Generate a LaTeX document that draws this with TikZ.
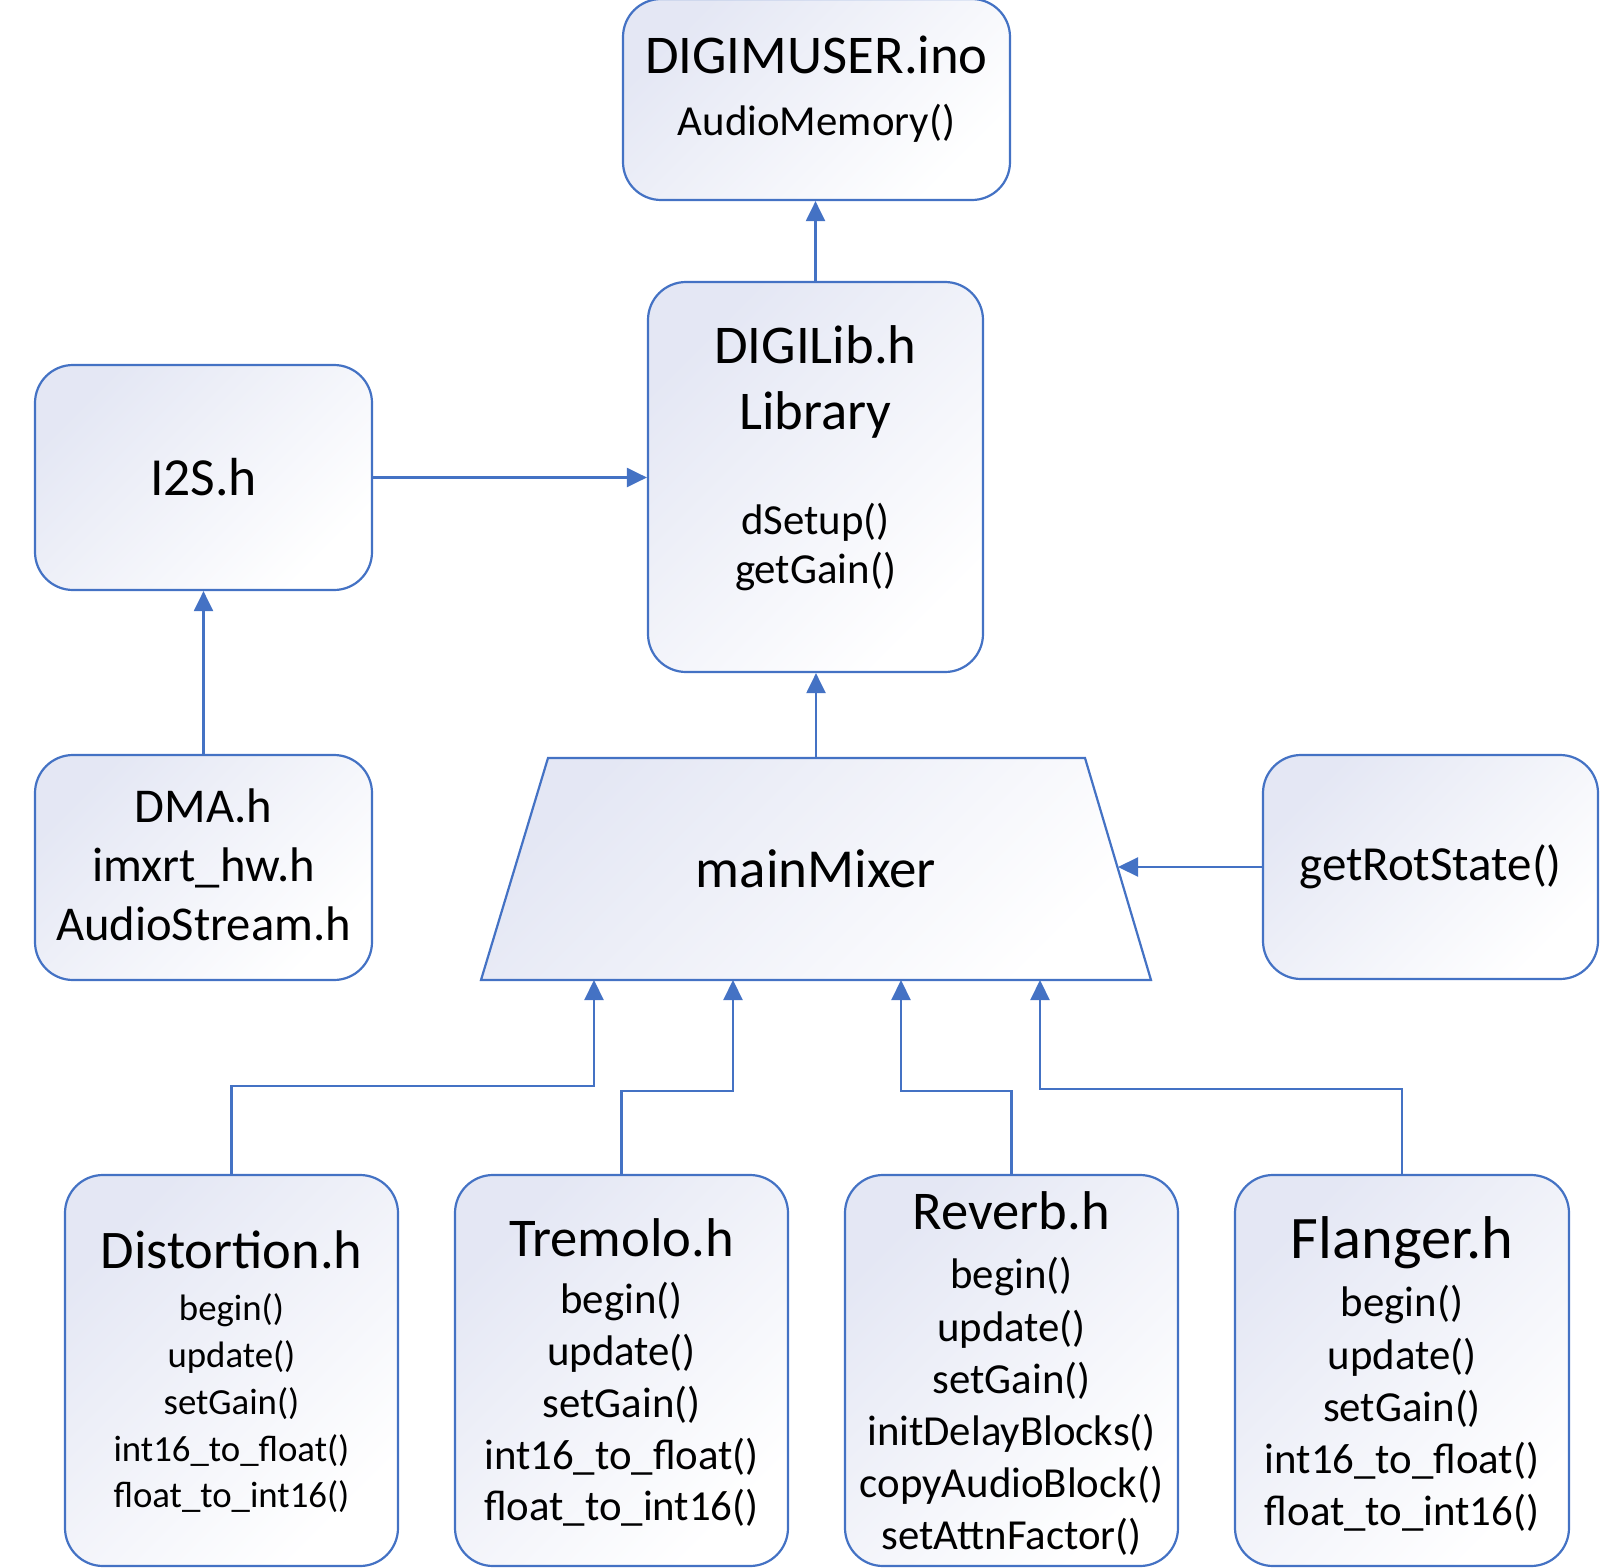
\documentclass[tikz,border=0pt]{standalone}
\usepackage{fontspec}
\setmainfont{Carlito}
\usepackage{tikz}
\usetikzlibrary{arrows.meta,positioning}

\definecolor{lineblue}{HTML}{4472C4}
\definecolor{fillblue}{HTML}{E4E7F4}

\begin{document}
\begin{tikzpicture}[x=0.5pt,y=-0.5pt,
	box/.style={draw=lineblue,line width=1.1pt,rounded corners=19pt,top color=fillblue,bottom color=white,shading angle=45,inner sep=0pt},
	conn/.style={draw=lineblue,line width=1.1pt,-{Triangle[length=10pt,width=9.5pt]}},
	ttl/.style={anchor=base,font=\fontsize{27.3}{32}\selectfont},
	sub/.style={font=\fontsize{21.4}{26}\selectfont}]
	\useasboundingbox (0,0) rectangle (1613,1568);

	% boxes
	\node[box,minimum width=193.5pt,minimum height=100.5pt] (muser) at (816.5,99.5) {};
	\node[box,minimum width=167.5pt,minimum height=195pt] (lib) at (815.5,477) {};
	\node[box,minimum width=168.5pt,minimum height=112.5pt,font=\fontsize{26.8}{32}\selectfont] (i2s) at (203.5,477.5) {I2S.h};
	\node[box,minimum width=168.5pt,minimum height=112.5pt] (dma) at (203.5,867.5) {};
	\node[box,minimum width=167.5pt,minimum height=112pt,font=\fontsize{24.5}{29}\selectfont] (rot) at (1430.5,867) {getRotState()};
	\node[box,minimum width=166.5pt,minimum height=195.5pt] (dist) at (231.5,1370.5) {};
	\node[box,minimum width=166.5pt,minimum height=195.5pt] (trem) at (621.5,1370.5) {};
	\node[box,minimum width=166.5pt,minimum height=195.5pt] (rev) at (1011.5,1370.5) {};
	\node[box,minimum width=167pt,minimum height=195.5pt] (flan) at (1402,1370.5) {};

	% mixer
	\coordinate (mixBL) at (481,980);
	\coordinate (mixBR) at (1151,980);
	\coordinate (mixTR) at (1085,758);
	\coordinate (mixTL) at (548,758);
	\coordinate (mixN) at (816,758);
	\coordinate (mixE) at (1118,869);
	\draw[box,rounded corners=0pt] (mixBL) -- (mixBR) -- (mixTR) -- (mixTL) -- cycle;
	\node[font=\fontsize{27.5}{32}\selectfont] (mix) at (816,869) {mainMixer};

	% texts
	\node[ttl] (muserT) at (816.5,74) {DIGIMUSER.ino};
	\node[sub] (muserS) at (816.5,123) {AudioMemory()};
	\node[ttl] (libT1) at (815.5,363) {DIGILib.h};
	\node[ttl] (libT2) at (815.5,429) {Library};
	\node[sub] (libS1) at (815.5,522) {dSetup()};
	\node[sub] (libS2) at (815.5,572) {getGain()};
	\node[ttl,font=\fontsize{24.3}{29}\selectfont] (dmaT1) at (203.5,822) {DMA.h};
	\node[ttl,font=\fontsize{24.3}{29}\selectfont] (dmaT2) at (203.5,881) {imxrt\_hw.h};
	\node[ttl,font=\fontsize{24.3}{29}\selectfont] (dmaT3) at (203.5,940) {AudioStream.h};

	\node[ttl,font=\fontsize{27.2}{32}\selectfont] (distT) at (231.5,1268) {Distortion.h};
	\foreach \t [count=\k] in {begin(),update(),setGain(),int16\_to\_float(),float\_to\_int16()}
		\node[sub,font=\fontsize{18.4}{22}\selectfont] (distL\k) at (231.5,{1310+46.7*(\k-1)}) {\t};
	\node[ttl] (tremT) at (621.5,1256) {Tremolo.h};
	\foreach \t [count=\k] in {begin(),update(),setGain(),int16\_to\_float(),float\_to\_int16()}
		\node[sub] (tremL\k) at (621.5,{1302+51.5*(\k-1)}) {\t};
	\node[ttl] (revT) at (1011.5,1229) {Reverb.h};
	\foreach \t [count=\k] in {begin(),update(),setGain(),initDelayBlocks(),copyAudioBlock(),setAttnFactor()}
		\node[sub] (revL\k) at (1011.5,{1277+52*(\k-1)}) {\t};
	\node[ttl,font=\fontsize{30.2}{36}\selectfont] (flanT) at (1402,1258) {Flanger.h};
	\foreach \t [count=\k] in {begin(),update(),setGain(),int16\_to\_float(),float\_to\_int16()}
		\node[sub] (flanL\k) at (1402,{1305+52*(\k-1)}) {\t};

	% connectors
	\coordinate (in1) at (594,980);
	\coordinate (in2) at (733,980);
	\coordinate (in3) at (901,980);
	\coordinate (in4) at (1040,980);

	\draw[conn] (lib.north) -- (lib.north |- muser.south);
	\draw[conn] (i2s.east) -- (i2s.east -| lib.west);
	\draw[conn] (dma.north) -- (i2s.south);
	\draw[conn] (mixN) -- (mixN |- lib.south);
	\draw[conn] (rot.west) -- (mixE |- rot.west);
	\draw[conn] (dist.north) -- ++(0,-88) -| (in1);
	\draw[conn] (trem.north) -- ++(0,-83) -| (in2);
	\draw[conn] (rev.north) -- ++(0,-83) -| (in3);
	\draw[conn] (flan.north) -- ++(0,-85) -| (in4);
\end{tikzpicture}
\end{document}
